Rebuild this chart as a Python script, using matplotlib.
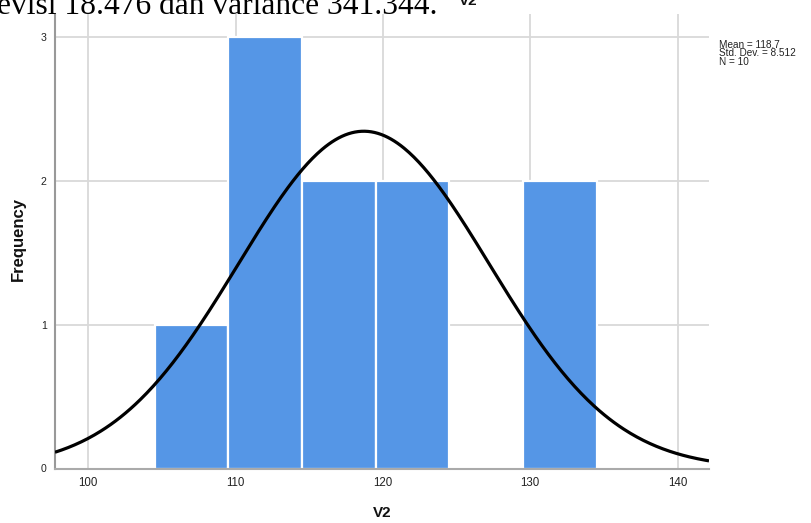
#!/usr/bin/env python3
"""Histogram of V2 with fitted normal curve (SPSS-style)."""
import matplotlib
matplotlib.use("Agg")
import matplotlib.pyplot as plt
import numpy as np

BAR = "#5596e6"
GRID = "#d9d9d9"

# data
bin_lefts = [104.5, 109.5, 114.5, 119.5, 124.5, 129.5]
bin_width = 5
counts = [1, 3, 2, 2, 0, 2]
mean, sd, n = 118.7, 8.512, 10
x_ticks = [100, 110, 120, 130, 140]
y_ticks = [0, 1, 2, 3]
stats_lines = ["Mean = 118.7", "Std. Dev. = 8.512", "N = 10"]

plt.rcParams["font.family"] = ["Liberation Sans", "DejaVu Sans"]

W, H = 812, 523
fig = plt.figure(figsize=(W / 100, H / 100), dpi=100)
ax = fig.add_axes([55 / W, 1 - 468.5 / H, (709 - 55) / W, (468.5 - 14) / H])

ax.bar(bin_lefts, counts, width=bin_width, align="edge", color=BAR,
       edgecolor="white", linewidth=1.6, zorder=2)

xlo, xhi = 97.74, 142.13
xs = np.linspace(xlo, xhi, 400)
pdf = n * bin_width / (sd * np.sqrt(2 * np.pi)) * np.exp(-0.5 * ((xs - mean) / sd) ** 2)
ax.plot(xs, pdf, color="black", lw=2.3, zorder=3, solid_capstyle="butt")

ax.set_xlim(xlo, xhi)
ax.set_ylim(0, 3.158)
ax.set_xticks(x_ticks)
ax.set_yticks(y_ticks)
ax.grid(color=GRID, lw=1.3, zorder=0)
ax.set_axisbelow(True)
ax.tick_params(length=0, colors="#222")
ax.tick_params(axis="x", pad=6, labelsize=8.3)
ax.tick_params(axis="y", pad=6, labelsize=7.6)
for s in ("top", "right"):
    ax.spines[s].set_visible(False)
ax.spines["left"].set_color("#999999")
ax.spines["left"].set_linewidth(1.5)
ax.spines["bottom"].set_color("#aaaaaa")
ax.spines["bottom"].set_linewidth(1.5)

fig.text(18 / W, 1 - 239 / H, "Frequency", rotation=90, ha="center", va="center",
         fontsize=12, fontweight="bold", color="#111")
fig.text(382 / W, 1 - 513 / H, "V2", ha="center", va="center",
         fontsize=11, fontweight="bold", color="#111")

for i, line in enumerate(stats_lines):
    fig.text(719 / W, 1 - (44.5 + 8.8 * i) / H, line, ha="left", va="center",
             fontsize=7.2, color="#222")

# cropped leftovers at the very top of the screenshot (cut off in the reference too)
fig.text(-3 / W, 1 - 13.5 / H, "evisi 18.476 dan variance 341.344.",
         family=["Liberation Serif", "DejaVu Serif"], fontsize=22.7,
         ha="left", va="baseline", color="black")
fig.text(468 / W, 1 - 5 / H, "V2", ha="center", va="baseline",
         fontsize=11, fontweight="bold", color="#111")

fig.savefig("out.png", dpi=100)
